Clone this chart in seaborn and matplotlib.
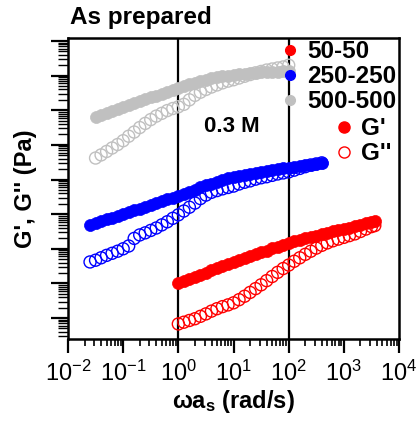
import numpy as np
import pandas as pd
import seaborn as sns
import matplotlib
matplotlib.use("Agg")
import matplotlib.pyplot as plt
from matplotlib.ticker import LogLocator, NullFormatter
from matplotlib.lines import Line2D

sns.set_theme(style="ticks")
plt.rcParams['font.family'] = ['Liberation Sans', 'DejaVu Sans']
plt.rcParams['mathtext.fontset'] = 'custom'
plt.rcParams['mathtext.rm'] = 'Liberation Sans'
plt.rcParams['mathtext.it'] = 'Liberation Sans:italic'
plt.rcParams['mathtext.bf'] = 'Liberation Sans:bold'
for k in ['text.color', 'axes.labelcolor', 'xtick.color', 'ytick.color', 'axes.edgecolor']:
    plt.rcParams[k] = 'black'

# ---- data (log10 of frequency and of modulus) ----
red_logw = [0.0, 0.1, 0.2, 0.3, 0.4, 0.5, 0.6, 0.7, 0.8, 0.9, 1.0, 1.1, 1.2, 1.3, 1.4, 1.5, 1.6, 1.7,
            1.8, 1.9, 2.0, 2.1, 2.2, 2.3, 2.4, 2.5, 2.6, 2.7, 2.8, 2.9, 3.0, 3.1, 3.2, 3.3, 3.4, 3.5, 3.56]
red_gp = [1.01, 1.07, 1.13, 1.19, 1.25, 1.31, 1.38, 1.44, 1.50, 1.56, 1.62, 1.68, 1.73, 1.79, 1.84, 1.90,
          1.95, 2.01, 2.06, 2.12, 2.17, 2.22, 2.26, 2.30, 2.34, 2.38, 2.42, 2.46, 2.50, 2.54, 2.57, 2.61,
          2.65, 2.69, 2.73, 2.77, 2.80]
red_gpp = [-0.17, -0.12, -0.07, -0.02, 0.05, 0.12, 0.20, 0.27, 0.33, 0.38, 0.44, 0.53, 0.63, 0.74, 0.85,
           0.96, 1.08, 1.20, 1.32, 1.43, 1.53, 1.64, 1.74, 1.84, 1.93, 2.02, 2.10, 2.17, 2.23, 2.28, 2.33,
           2.38, 2.43, 2.50, 2.57, 2.64, 2.67]

blue_logw = [-1.6, -1.5, -1.4, -1.3, -1.2, -1.1, -1.0, -0.9, -0.8, -0.7, -0.6, -0.5, -0.4, -0.3, -0.2,
             -0.1, 0.0, 0.1, 0.2, 0.3, 0.4, 0.5, 0.6, 0.7, 0.8, 0.9, 1.0, 1.1, 1.2, 1.3, 1.4, 1.5, 1.6,
             1.7, 1.8, 1.9, 2.0, 2.1, 2.2, 2.3, 2.4, 2.5, 2.6]
blue_gp = [2.69, 2.74, 2.79, 2.85, 2.90, 2.95, 3.00, 3.06, 3.11, 3.16, 3.22, 3.27, 3.32, 3.37, 3.43, 3.48,
           3.53, 3.59, 3.65, 3.71, 3.77, 3.83, 3.88, 3.93, 3.98, 4.03, 4.08, 4.11, 4.14, 4.17, 4.20, 4.22,
           4.25, 4.27, 4.30, 4.32, 4.34, 4.36, 4.39, 4.41, 4.43, 4.46, 4.48]
blue_gpp = [1.62, 1.67, 1.74, 1.81, 1.87, 1.93, 2.00, 2.08, 2.30, 2.40, 2.46, 2.53, 2.60, 2.69, 2.78, 2.88,
            2.98, 3.09, 3.20, 3.32, 3.45, 3.55, 3.63, 3.68, 3.73, 3.77, 3.81, 3.87, 3.92, 3.96, 4.01, 4.05,
            4.08, 4.12, 4.16, 4.19, 4.22, 4.27, 4.32, 4.37, 4.42, 4.45, 4.48]

gray_logw = [-1.5, -1.4, -1.3, -1.2, -1.1, -1.0, -0.9, -0.8, -0.7, -0.6, -0.5, -0.4, -0.3, -0.2, -0.1,
             0.0, 0.1, 0.2, 0.3, 0.4, 0.5, 0.6, 0.7, 0.8, 0.9, 1.0, 1.1, 1.2, 1.3, 1.4, 1.5, 1.6, 1.7,
             1.8, 1.9, 2.0]
gray_gp = [5.81, 5.87, 5.92, 5.98, 6.03, 6.09, 6.14, 6.20, 6.26, 6.31, 6.37, 6.42, 6.48, 6.54, 6.59, 6.65,
           6.70, 6.75, 6.79, 6.84, 6.88, 6.92, 6.95, 6.98, 7.00, 7.02, 7.04, 7.06, 7.07, 7.08, 7.09, 7.10,
           7.11, 7.11, 7.12, 7.12]
gray_gpp = [4.62, 4.71, 4.81, 4.91, 5.01, 5.12, 5.25, 5.37, 5.50, 5.62, 5.73, 5.83, 5.91, 5.99, 6.05, 6.10,
            6.17, 6.30, 6.43, 6.52, 6.60, 6.67, 6.73, 6.79, 6.84, 6.88, 6.93, 6.98, 7.03, 7.08, 7.12, 7.16,
            7.19, 7.22, 7.25, 7.30]

samples = ["50-50", "250-250", "500-500"]
colors = {"50-50": "#ff0000", "250-250": "#0000ff", "500-500": "#c0c0c0"}
xticks_exp = [-2, -1, 0, 1, 2, 3, 4]
guide_lines = [1, 100]
annot_text = "0.3 M"
title_text = "As prepared"

rows = []
for name, lw_, gp, gpp in [("50-50", red_logw, red_gp, red_gpp),
                           ("250-250", blue_logw, blue_gp, blue_gpp),
                           ("500-500", gray_logw, gray_gp, gray_gpp)]:
    for a, b, c in zip(lw_, gp, gpp):
        rows.append({"sample": name, "w": 10 ** a, "mod": "G'", "G": 10 ** b})
        rows.append({"sample": name, "w": 10 ** a, "mod": "G''", "G": 10 ** c})
df = pd.DataFrame(rows)

fig = plt.figure(figsize=(4.17, 4.30), dpi=100)
ax = fig.add_axes([0.163, 0.212, 0.794, 0.700])

for xv in guide_lines:
    ax.axvline(xv, color="black", lw=1.6, zorder=1)

msize = 75
for s in samples:
    d = df[(df["sample"] == s) & (df["mod"] == "G'")]
    sns.scatterplot(data=d, x="w", y="G", ax=ax, color=colors[s], s=msize,
                    edgecolor=colors[s], linewidth=0.5, legend=False, zorder=3)
for s in samples:
    d = df[(df["sample"] == s) & (df["mod"] == "G''")]
    sns.scatterplot(data=d, x="w", y="G", ax=ax, facecolors="none", s=msize,
                    edgecolor=colors[s], linewidth=1.0, legend=False, zorder=4)

ax.set_xscale("log")
ax.set_yscale("log")
ax.set_xlim(1e-2, 1e4)
ax.set_ylim(10 ** -0.6, 10 ** 8.09)

ax.xaxis.set_minor_locator(LogLocator(base=10, subs=np.arange(2, 10), numticks=100))
ax.yaxis.set_major_locator(LogLocator(base=10, numticks=30))
ax.yaxis.set_minor_locator(LogLocator(base=10, subs=np.arange(2, 10), numticks=200))
ax.yaxis.set_major_formatter(NullFormatter())
ax.yaxis.set_minor_formatter(NullFormatter())
ax.set_xticks([10.0 ** e for e in xticks_exp])
ax.set_xticklabels([rf"$10^{{{e}}}$" for e in xticks_exp])

ax.tick_params(axis="x", which="major", length=10, width=1.6, labelsize=17, pad=6, direction="out")
ax.tick_params(axis="x", which="minor", length=5, width=1.2, direction="out")
ax.tick_params(axis="y", which="major", length=12, width=1.6, direction="out")
ax.tick_params(axis="y", which="minor", length=7, width=1.0, direction="out")
for sp in ax.spines.values():
    sp.set_linewidth(1.8)
    sp.set_color("black")

ax.set_xlabel(r"$\mathbf{\omega a_s}$ (rad/s)", fontsize=17, fontweight="bold", labelpad=1)
ax.set_ylabel("G', G'' (Pa)", fontsize=17, fontweight="bold", labelpad=7)
ax.text(0.005, 1.03, title_text, transform=ax.transAxes, fontsize=17.5, fontweight="bold",
        ha="left", va="bottom")
ax.text(0.495, 0.705, annot_text, transform=ax.transAxes, fontsize=16, fontweight="bold",
        ha="center", va="center")

h1 = [Line2D([], [], ls="none", marker="o", ms=7, color=colors[s]) for s in samples]
leg1 = ax.legend(h1, samples, loc="upper right", bbox_to_anchor=(1.0, 1.0), frameon=False,
                 prop={"size": 17.5, "weight": "bold"}, handlelength=0.6, handletextpad=0.4,
                 labelspacing=0.08, borderpad=0.1, borderaxespad=0.0)
ax.add_artist(leg1)
h2 = [Line2D([], [], ls="none", marker="o", ms=8, color="#ff0000"),
      Line2D([], [], ls="none", marker="o", ms=8, markerfacecolor="none", markeredgecolor="#ff0000")]
ax.legend(h2, ["G'", "G''"], loc="upper right", bbox_to_anchor=(0.985, 0.745), frameon=False,
          prop={"size": 17.5, "weight": "bold"}, handlelength=0.6, handletextpad=0.4,
          labelspacing=0.1, borderpad=0.1, borderaxespad=0.0)

fig.savefig("out.png", dpi=100)
